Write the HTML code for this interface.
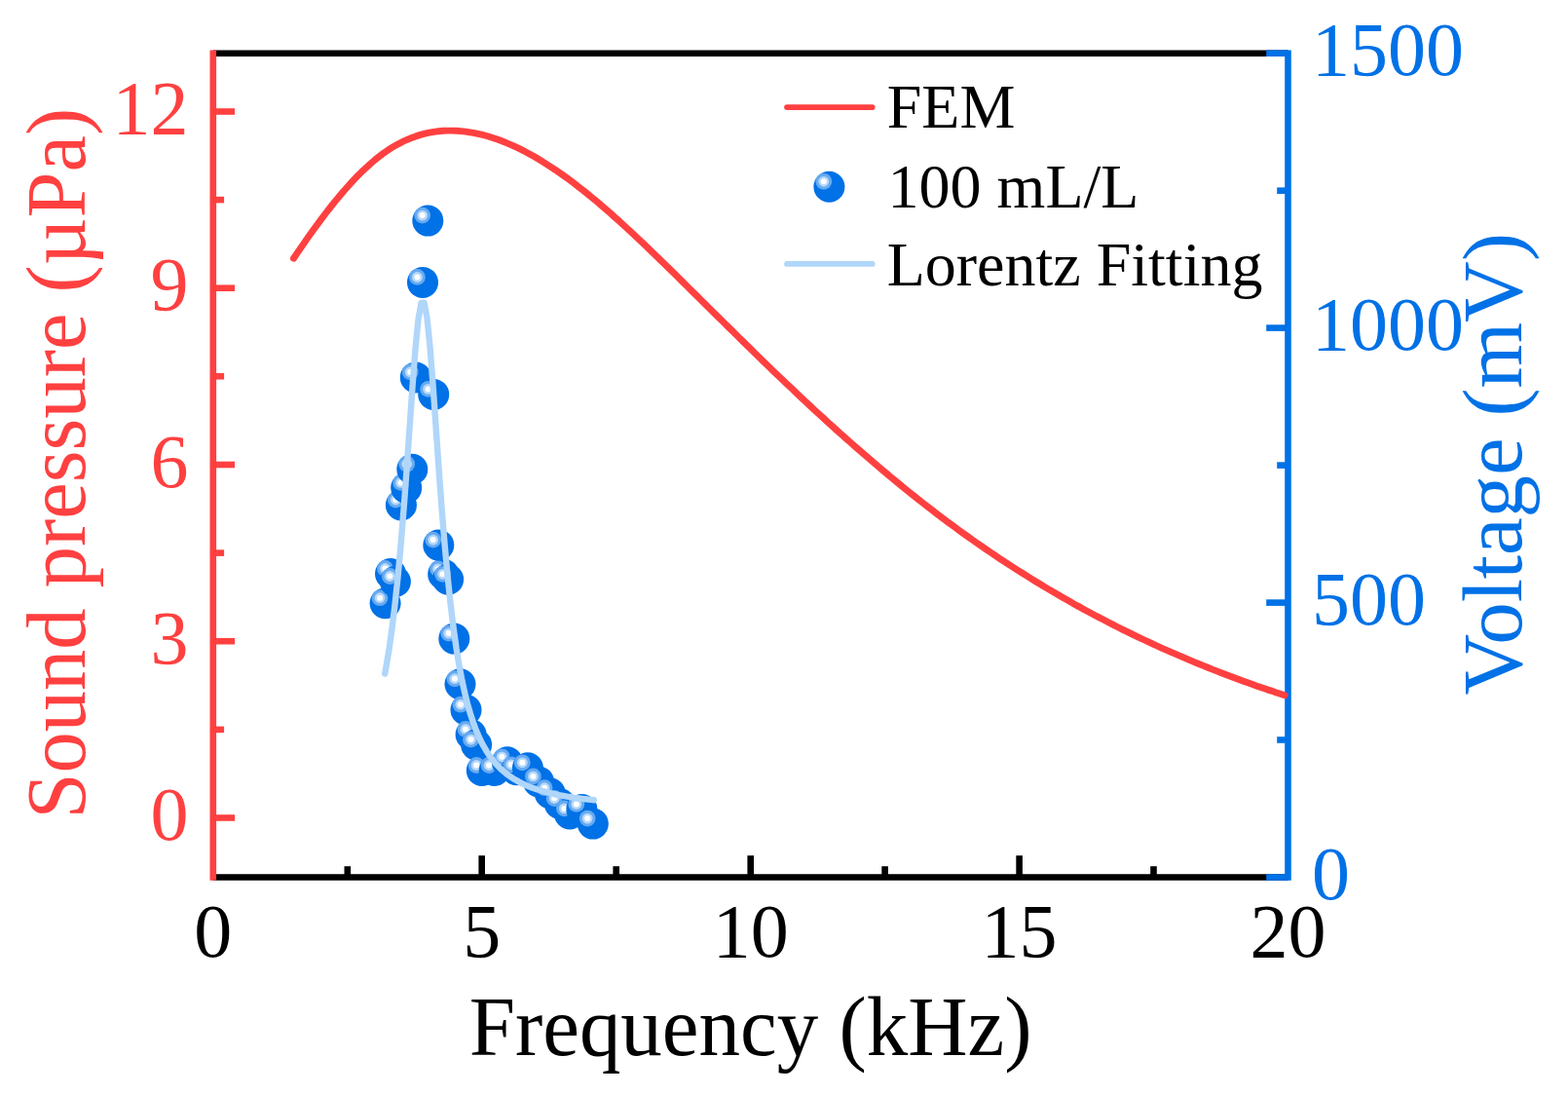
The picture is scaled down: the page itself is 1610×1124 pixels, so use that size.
<!DOCTYPE html><html><head><meta charset="utf-8"><title>Sound pressure and voltage vs frequency</title>
<style>html,body{margin:0;padding:0;background:#fff;}svg{display:block;}text{font-family:"Liberation Serif","Times New Roman",serif;}</style></head><body>
<svg width="1610" height="1124" viewBox="0 0 1610 1124">
<rect width="1610" height="1124" fill="#fff"/>
<line x1="218.8" y1="54.7" x2="1322.5" y2="54.7" stroke="#000" stroke-width="6.6"/>
<line x1="218.8" y1="900.5" x2="1322.5" y2="900.5" stroke="#000" stroke-width="6.6"/>
<line x1="494.7" y1="900.5" x2="494.7" y2="878.2" stroke="#000" stroke-width="6.6"/>
<line x1="770.7" y1="900.5" x2="770.7" y2="878.2" stroke="#000" stroke-width="6.6"/>
<line x1="1046.6" y1="900.5" x2="1046.6" y2="878.2" stroke="#000" stroke-width="6.6"/>
<line x1="356.8" y1="900.5" x2="356.8" y2="889.2" stroke="#000" stroke-width="6.6"/>
<line x1="632.7" y1="900.5" x2="632.7" y2="889.2" stroke="#000" stroke-width="6.6"/>
<line x1="908.6" y1="900.5" x2="908.6" y2="889.2" stroke="#000" stroke-width="6.6"/>
<line x1="1184.5" y1="900.5" x2="1184.5" y2="889.2" stroke="#000" stroke-width="6.6"/>
<line x1="218.8" y1="51.4" x2="218.8" y2="903.8" stroke="#FF4040" stroke-width="6.6"/>
<line x1="218.8" y1="839.5" x2="241.1" y2="839.5" stroke="#FF4040" stroke-width="6.6"/>
<line x1="218.8" y1="658.2" x2="241.1" y2="658.2" stroke="#FF4040" stroke-width="6.6"/>
<line x1="218.8" y1="477.0" x2="241.1" y2="477.0" stroke="#FF4040" stroke-width="6.6"/>
<line x1="218.8" y1="295.7" x2="241.1" y2="295.7" stroke="#FF4040" stroke-width="6.6"/>
<line x1="218.8" y1="114.5" x2="241.1" y2="114.5" stroke="#FF4040" stroke-width="6.6"/>
<line x1="218.8" y1="748.9" x2="230.1" y2="748.9" stroke="#FF4040" stroke-width="6.6"/>
<line x1="218.8" y1="567.6" x2="230.1" y2="567.6" stroke="#FF4040" stroke-width="6.6"/>
<line x1="218.8" y1="386.3" x2="230.1" y2="386.3" stroke="#FF4040" stroke-width="6.6"/>
<line x1="218.8" y1="205.1" x2="230.1" y2="205.1" stroke="#FF4040" stroke-width="6.6"/>
<line x1="1322.5" y1="51.4" x2="1322.5" y2="903.8" stroke="#0071E6" stroke-width="6.6"/>
<line x1="1322.5" y1="900.5" x2="1300.2" y2="900.5" stroke="#0071E6" stroke-width="6.6"/>
<line x1="1322.5" y1="618.6" x2="1300.2" y2="618.6" stroke="#0071E6" stroke-width="6.6"/>
<line x1="1322.5" y1="336.6" x2="1300.2" y2="336.6" stroke="#0071E6" stroke-width="6.6"/>
<line x1="1322.5" y1="54.7" x2="1300.2" y2="54.7" stroke="#0071E6" stroke-width="6.6"/>
<line x1="1322.5" y1="759.5" x2="1311.2" y2="759.5" stroke="#0071E6" stroke-width="6.6"/>
<line x1="1322.5" y1="477.6" x2="1311.2" y2="477.6" stroke="#0071E6" stroke-width="6.6"/>
<line x1="1322.5" y1="195.7" x2="1311.2" y2="195.7" stroke="#0071E6" stroke-width="6.6"/>
<g font-size="78" fill="#000" text-anchor="middle">
<text x="218.8" y="982">0</text>
<text x="494.7" y="982">5</text>
<text x="770.7" y="982">10</text>
<text x="1046.6" y="982">15</text>
<text x="1322.5" y="982">20</text>
</g>
<g font-size="78" fill="#FF4040" text-anchor="end">
<text x="193.5" y="862.0">0</text>
<text x="193.5" y="680.7">3</text>
<text x="193.5" y="499.5">6</text>
<text x="193.5" y="318.2">9</text>
<text x="193.5" y="137.0">12</text>
</g>
<g font-size="78" fill="#0071E6" text-anchor="start">
<text x="1347" y="922.8">0</text>
<text x="1347" y="640.9">500</text>
<text x="1347" y="358.9">1000</text>
<text x="1347" y="77.0">1500</text>
</g>
<text transform="translate(770.6,1082.5) scale(0.97,1)" font-size="87.6" text-anchor="middle" fill="#000">Frequency (kHz)</text>
<text transform="translate(87,475.7) rotate(-90) scale(0.983,1)" font-size="86" text-anchor="middle" fill="#FF4040">Sound pressure (µPa)</text>
<text transform="translate(1562,476.3) rotate(-90)" font-size="87" text-anchor="middle" fill="#0071E6">Voltage (mV)</text>
<path d="M301.5,265.2 L306.1,258.4 L310.8,251.6 L315.4,244.9 L320.1,238.3 L324.7,231.9 L329.4,225.6 L334.0,219.5 L338.7,213.5 L343.3,207.6 L348.0,202.0 L352.6,196.5 L357.3,191.2 L361.9,186.1 L366.6,181.2 L371.2,176.6 L375.9,172.2 L380.5,168.0 L385.1,164.0 L389.8,160.3 L394.4,156.8 L399.1,153.7 L403.7,150.7 L408.4,148.1 L413.0,145.7 L417.7,143.5 L422.3,141.6 L427.0,139.9 L431.6,138.4 L436.3,137.2 L440.9,136.2 L445.6,135.4 L450.2,134.7 L454.9,134.3 L459.5,134.1 L464.1,134.1 L468.8,134.3 L473.4,134.6 L478.1,135.1 L482.7,135.8 L487.4,136.6 L492.0,137.6 L496.7,138.7 L501.3,140.0 L506.0,141.5 L510.6,143.0 L515.3,144.7 L519.9,146.6 L524.6,148.6 L529.2,150.7 L533.9,152.9 L538.5,155.3 L543.1,157.7 L547.8,160.3 L552.4,163.0 L557.1,165.9 L561.7,168.8 L566.4,171.8 L571.0,174.9 L575.7,178.1 L580.3,181.4 L585.0,184.8 L589.6,188.3 L594.3,191.9 L598.9,195.5 L603.6,199.3 L608.2,203.1 L612.9,206.9 L617.5,210.9 L622.1,214.9 L626.8,218.9 L631.4,223.1 L636.1,227.2 L640.7,231.5 L645.4,235.7 L650.0,240.0 L654.7,244.4 L659.3,248.8 L664.0,253.2 L668.6,257.7 L673.3,262.2 L677.9,266.7 L682.6,271.2 L687.2,275.8 L691.9,280.3 L696.5,284.9 L701.1,289.5 L705.8,294.1 L710.4,298.7 L715.1,303.3 L719.7,307.9 L724.4,312.5 L729.0,317.1 L733.7,321.7 L738.3,326.3 L743.0,330.9 L747.6,335.5 L752.3,340.0 L756.9,344.6 L761.6,349.2 L766.2,353.8 L770.9,358.3 L775.5,362.9 L780.1,367.4 L784.8,371.9 L789.4,376.4 L794.1,380.9 L798.7,385.4 L803.4,389.8 L808.0,394.2 L812.7,398.6 L817.3,403.0 L822.0,407.4 L826.6,411.8 L831.3,416.1 L835.9,420.4 L840.6,424.7 L845.2,428.9 L849.8,433.2 L854.5,437.4 L859.1,441.6 L863.8,445.8 L868.4,449.9 L873.1,454.0 L877.7,458.1 L882.4,462.2 L887.0,466.2 L891.7,470.2 L896.3,474.2 L901.0,478.2 L905.6,482.1 L910.3,486.0 L914.9,489.9 L919.6,493.7 L924.2,497.5 L928.8,501.3 L933.5,505.1 L938.1,508.8 L942.8,512.5 L947.4,516.1 L952.1,519.7 L956.7,523.3 L961.4,526.9 L966.0,530.4 L970.7,533.9 L975.3,537.4 L980.0,540.8 L984.6,544.2 L989.3,547.6 L993.9,550.9 L998.6,554.2 L1003.2,557.5 L1007.8,560.7 L1012.5,563.9 L1017.1,567.0 L1021.8,570.2 L1026.4,573.3 L1031.1,576.4 L1035.7,579.4 L1040.4,582.4 L1045.0,585.4 L1049.7,588.3 L1054.3,591.2 L1059.0,594.1 L1063.6,597.0 L1068.3,599.8 L1072.9,602.6 L1077.6,605.4 L1082.2,608.1 L1086.8,610.8 L1091.5,613.5 L1096.1,616.1 L1100.8,618.8 L1105.4,621.4 L1110.1,623.9 L1114.7,626.5 L1119.4,629.0 L1124.0,631.5 L1128.7,633.9 L1133.3,636.3 L1138.0,638.7 L1142.6,641.1 L1147.3,643.5 L1151.9,645.8 L1156.6,648.1 L1161.2,650.4 L1165.8,652.6 L1170.5,654.8 L1175.1,657.0 L1179.8,659.2 L1184.4,661.3 L1189.1,663.5 L1193.7,665.6 L1198.4,667.6 L1203.0,669.7 L1207.7,671.7 L1212.3,673.7 L1217.0,675.7 L1221.6,677.6 L1226.3,679.6 L1230.9,681.5 L1235.6,683.4 L1240.2,685.2 L1244.8,687.1 L1249.5,688.9 L1254.1,690.7 L1258.8,692.5 L1263.4,694.2 L1268.1,696.0 L1272.7,697.7 L1277.4,699.4 L1282.0,701.1 L1286.7,702.7 L1291.3,704.4 L1296.0,706.0 L1300.6,707.6 L1305.3,709.1 L1309.9,710.7 L1314.6,712.2 L1319.2,713.8" fill="none" stroke="#FF4040" stroke-width="6.9" stroke-linecap="round" stroke-linejoin="round"/>
<circle cx="395.6" cy="619.2" r="16" fill="#0071E6"/><circle cx="390.0" cy="613.7" r="8.4" fill="#66AAF2"/><circle cx="390.0" cy="613.7" r="5.4" fill="#B6D8F9"/><circle cx="390.0" cy="613.7" r="3.0" fill="#FFFFFF"/>
<circle cx="401.0" cy="589.0" r="16" fill="#0071E6"/><circle cx="395.4" cy="583.5" r="8.4" fill="#66AAF2"/><circle cx="395.4" cy="583.5" r="5.4" fill="#B6D8F9"/><circle cx="395.4" cy="583.5" r="3.0" fill="#FFFFFF"/>
<circle cx="405.9" cy="597.0" r="16" fill="#0071E6"/><circle cx="400.3" cy="591.5" r="8.4" fill="#66AAF2"/><circle cx="400.3" cy="591.5" r="5.4" fill="#B6D8F9"/><circle cx="400.3" cy="591.5" r="3.0" fill="#FFFFFF"/>
<circle cx="411.9" cy="518.5" r="16" fill="#0071E6"/><circle cx="406.3" cy="513.0" r="8.4" fill="#66AAF2"/><circle cx="406.3" cy="513.0" r="5.4" fill="#B6D8F9"/><circle cx="406.3" cy="513.0" r="3.0" fill="#FFFFFF"/>
<circle cx="417.2" cy="500.9" r="16" fill="#0071E6"/><circle cx="411.6" cy="495.4" r="8.4" fill="#66AAF2"/><circle cx="411.6" cy="495.4" r="5.4" fill="#B6D8F9"/><circle cx="411.6" cy="495.4" r="3.0" fill="#FFFFFF"/>
<circle cx="423.3" cy="481.7" r="16" fill="#0071E6"/><circle cx="417.7" cy="476.2" r="8.4" fill="#66AAF2"/><circle cx="417.7" cy="476.2" r="5.4" fill="#B6D8F9"/><circle cx="417.7" cy="476.2" r="3.0" fill="#FFFFFF"/>
<circle cx="426.8" cy="387.4" r="16" fill="#0071E6"/><circle cx="421.2" cy="381.9" r="8.4" fill="#66AAF2"/><circle cx="421.2" cy="381.9" r="5.4" fill="#B6D8F9"/><circle cx="421.2" cy="381.9" r="3.0" fill="#FFFFFF"/>
<circle cx="434.0" cy="289.9" r="16" fill="#0071E6"/><circle cx="428.4" cy="284.4" r="8.4" fill="#66AAF2"/><circle cx="428.4" cy="284.4" r="5.4" fill="#B6D8F9"/><circle cx="428.4" cy="284.4" r="3.0" fill="#FFFFFF"/>
<circle cx="439.3" cy="226.6" r="16" fill="#0071E6"/><circle cx="433.7" cy="221.1" r="8.4" fill="#66AAF2"/><circle cx="433.7" cy="221.1" r="5.4" fill="#B6D8F9"/><circle cx="433.7" cy="221.1" r="3.0" fill="#FFFFFF"/>
<circle cx="445.2" cy="404.9" r="16" fill="#0071E6"/><circle cx="439.6" cy="399.4" r="8.4" fill="#66AAF2"/><circle cx="439.6" cy="399.4" r="5.4" fill="#B6D8F9"/><circle cx="439.6" cy="399.4" r="3.0" fill="#FFFFFF"/>
<circle cx="450.3" cy="559.6" r="16" fill="#0071E6"/><circle cx="444.7" cy="554.1" r="8.4" fill="#66AAF2"/><circle cx="444.7" cy="554.1" r="5.4" fill="#B6D8F9"/><circle cx="444.7" cy="554.1" r="3.0" fill="#FFFFFF"/>
<circle cx="455.2" cy="589.4" r="16" fill="#0071E6"/><circle cx="449.6" cy="583.9" r="8.4" fill="#66AAF2"/><circle cx="449.6" cy="583.9" r="5.4" fill="#B6D8F9"/><circle cx="449.6" cy="583.9" r="3.0" fill="#FFFFFF"/>
<circle cx="460.1" cy="594.8" r="16" fill="#0071E6"/><circle cx="454.5" cy="589.3" r="8.4" fill="#66AAF2"/><circle cx="454.5" cy="589.3" r="5.4" fill="#B6D8F9"/><circle cx="454.5" cy="589.3" r="3.0" fill="#FFFFFF"/>
<circle cx="466.3" cy="655.6" r="16" fill="#0071E6"/><circle cx="460.7" cy="650.1" r="8.4" fill="#66AAF2"/><circle cx="460.7" cy="650.1" r="5.4" fill="#B6D8F9"/><circle cx="460.7" cy="650.1" r="3.0" fill="#FFFFFF"/>
<circle cx="472.5" cy="702.2" r="16" fill="#0071E6"/><circle cx="466.9" cy="696.7" r="8.4" fill="#66AAF2"/><circle cx="466.9" cy="696.7" r="5.4" fill="#B6D8F9"/><circle cx="466.9" cy="696.7" r="3.0" fill="#FFFFFF"/>
<circle cx="478.5" cy="728.7" r="16" fill="#0071E6"/><circle cx="472.9" cy="723.2" r="8.4" fill="#66AAF2"/><circle cx="472.9" cy="723.2" r="5.4" fill="#B6D8F9"/><circle cx="472.9" cy="723.2" r="3.0" fill="#FFFFFF"/>
<circle cx="483.6" cy="754.0" r="16" fill="#0071E6"/><circle cx="478.0" cy="748.5" r="8.4" fill="#66AAF2"/><circle cx="478.0" cy="748.5" r="5.4" fill="#B6D8F9"/><circle cx="478.0" cy="748.5" r="3.0" fill="#FFFFFF"/>
<circle cx="489.1" cy="764.6" r="16" fill="#0071E6"/><circle cx="483.5" cy="759.1" r="8.4" fill="#66AAF2"/><circle cx="483.5" cy="759.1" r="5.4" fill="#B6D8F9"/><circle cx="483.5" cy="759.1" r="3.0" fill="#FFFFFF"/>
<circle cx="494.8" cy="791.0" r="16" fill="#0071E6"/><circle cx="489.2" cy="785.5" r="8.4" fill="#66AAF2"/><circle cx="489.2" cy="785.5" r="5.4" fill="#B6D8F9"/><circle cx="489.2" cy="785.5" r="3.0" fill="#FFFFFF"/>
<circle cx="507.7" cy="791.0" r="16" fill="#0071E6"/><circle cx="502.1" cy="785.5" r="8.4" fill="#66AAF2"/><circle cx="502.1" cy="785.5" r="5.4" fill="#B6D8F9"/><circle cx="502.1" cy="785.5" r="3.0" fill="#FFFFFF"/>
<circle cx="520.9" cy="782.3" r="16" fill="#0071E6"/><circle cx="515.3" cy="776.8" r="8.4" fill="#66AAF2"/><circle cx="515.3" cy="776.8" r="5.4" fill="#B6D8F9"/><circle cx="515.3" cy="776.8" r="3.0" fill="#FFFFFF"/>
<circle cx="530.4" cy="790.3" r="16" fill="#0071E6"/><circle cx="524.8" cy="784.8" r="8.4" fill="#66AAF2"/><circle cx="524.8" cy="784.8" r="5.4" fill="#B6D8F9"/><circle cx="524.8" cy="784.8" r="3.0" fill="#FFFFFF"/>
<circle cx="541.9" cy="788.3" r="16" fill="#0071E6"/><circle cx="536.3" cy="782.8" r="8.4" fill="#66AAF2"/><circle cx="536.3" cy="782.8" r="5.4" fill="#B6D8F9"/><circle cx="536.3" cy="782.8" r="3.0" fill="#FFFFFF"/>
<circle cx="553.0" cy="802.4" r="16" fill="#0071E6"/><circle cx="547.4" cy="796.9" r="8.4" fill="#66AAF2"/><circle cx="547.4" cy="796.9" r="5.4" fill="#B6D8F9"/><circle cx="547.4" cy="796.9" r="3.0" fill="#FFFFFF"/>
<circle cx="564.7" cy="814.2" r="16" fill="#0071E6"/><circle cx="559.1" cy="808.7" r="8.4" fill="#66AAF2"/><circle cx="559.1" cy="808.7" r="5.4" fill="#B6D8F9"/><circle cx="559.1" cy="808.7" r="3.0" fill="#FFFFFF"/>
<circle cx="574.8" cy="825.0" r="16" fill="#0071E6"/><circle cx="569.2" cy="819.5" r="8.4" fill="#66AAF2"/><circle cx="569.2" cy="819.5" r="5.4" fill="#B6D8F9"/><circle cx="569.2" cy="819.5" r="3.0" fill="#FFFFFF"/>
<circle cx="585.0" cy="835.4" r="16" fill="#0071E6"/><circle cx="579.4" cy="829.9" r="8.4" fill="#66AAF2"/><circle cx="579.4" cy="829.9" r="5.4" fill="#B6D8F9"/><circle cx="579.4" cy="829.9" r="3.0" fill="#FFFFFF"/>
<circle cx="597.4" cy="830.9" r="16" fill="#0071E6"/><circle cx="591.8" cy="825.4" r="8.4" fill="#66AAF2"/><circle cx="591.8" cy="825.4" r="5.4" fill="#B6D8F9"/><circle cx="591.8" cy="825.4" r="3.0" fill="#FFFFFF"/>
<circle cx="608.8" cy="845.6" r="16" fill="#0071E6"/><circle cx="603.2" cy="840.1" r="8.4" fill="#66AAF2"/><circle cx="603.2" cy="840.1" r="5.4" fill="#B6D8F9"/><circle cx="603.2" cy="840.1" r="3.0" fill="#FFFFFF"/>
<path d="M395.2,691.6 L396.6,683.9 L399.6,665.7 L402.6,644.5 L405.6,619.9 L408.6,591.5 L411.6,558.9 L414.6,522.1 L417.6,481.5 L420.6,438.6 L423.6,395.8 L426.6,357.0 L429.6,327.0 L432.6,310.6 L435.6,310.6 L438.6,327.0 L441.6,357.0 L444.6,395.8 L447.6,438.6 L450.6,481.5 L453.6,522.1 L456.6,558.9 L459.6,591.5 L462.6,619.9 L465.6,644.5 L468.6,665.7 L471.6,683.9 L474.6,699.5 L477.4,712.0 L480.1,722.9 L482.9,732.5 L485.7,741.0 L488.4,748.4 L491.2,755.1 L493.9,760.9 L496.7,766.2 L499.5,770.9 L502.2,775.1 L505.0,778.9 L507.7,782.3 L510.5,785.5 L513.2,788.3 L516.0,790.9 L518.8,793.2 L521.5,795.4 L524.3,797.3 L527.0,799.2 L529.8,800.8 L532.6,802.4 L535.3,803.8 L538.1,805.1 L540.8,806.3 L543.6,807.5 L546.3,808.6 L549.1,809.5 L551.9,810.5 L554.6,811.3 L557.4,812.1 L560.1,812.9 L562.9,813.6 L565.7,814.3 L568.4,814.9 L571.2,815.5 L573.9,816.1 L576.7,816.6 L579.5,817.1 L582.2,817.6 L585.0,818.0 L587.7,818.5 L590.5,818.9 L593.2,819.3 L596.0,819.6 L598.8,820.0 L601.5,820.3 L604.3,820.6 L607.0,820.9 L609.8,821.2" fill="none" stroke="#B0D6FA" stroke-width="6.4" stroke-linecap="round" stroke-linejoin="round"/>
<line x1="808" y1="110.1" x2="895.7" y2="110.1" stroke="#FF4040" stroke-width="5.8" stroke-linecap="round"/>
<text x="910.7" y="131.4" font-size="64" fill="#000">FEM</text>
<circle cx="851.4" cy="191.8" r="16" fill="#0071E6"/><circle cx="845.8" cy="186.3" r="8.4" fill="#66AAF2"/><circle cx="845.8" cy="186.3" r="5.4" fill="#B6D8F9"/><circle cx="845.8" cy="186.3" r="3.0" fill="#FFFFFF"/>
<text x="911.6" y="212.8" font-size="64" fill="#000">100 mL/L</text>
<line x1="808" y1="270.9" x2="895.7" y2="270.9" stroke="#B0D6FA" stroke-width="5.8" stroke-linecap="round"/>
<text x="910.7" y="292.9" font-size="64" fill="#000">Lorentz Fitting</text>
</svg></body></html>
